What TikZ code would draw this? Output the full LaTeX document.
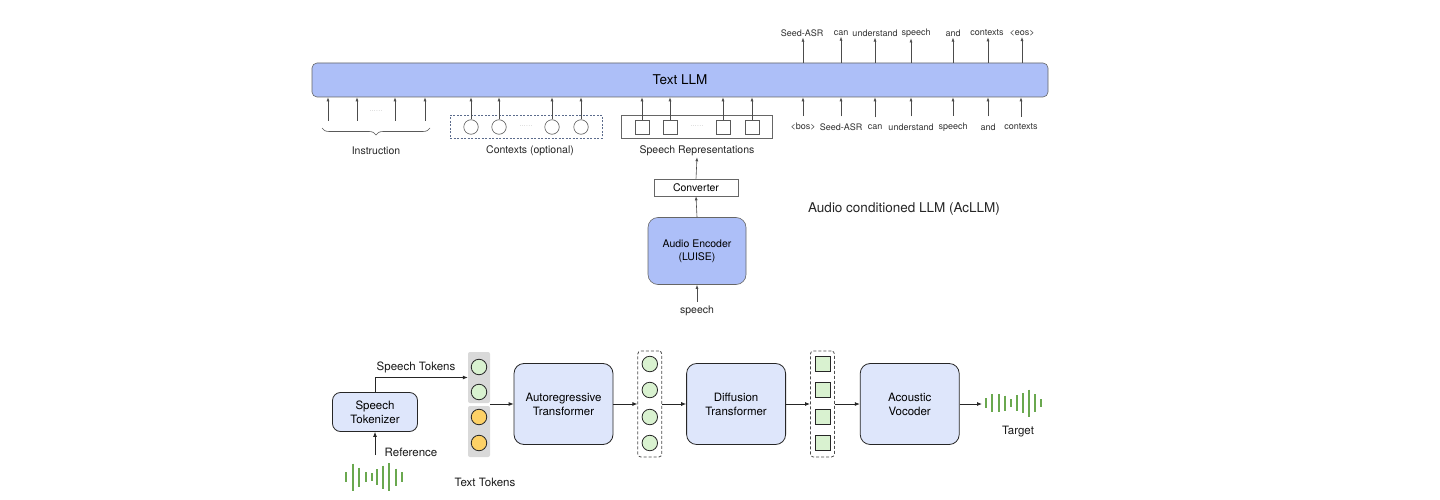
\documentclass[tikz,border=0pt]{standalone}
\usepackage{fontspec}
\setmainfont{TeX Gyre Heros}
\usetikzlibrary{arrows.meta,positioning,decorations.pathreplacing}
\definecolor{llmblue}{HTML}{ADBFF8}
\definecolor{lavbox}{HTML}{DEE6FB}
\definecolor{tokgreen}{HTML}{D9F2D0}
\definecolor{tokyellow}{HTML}{FDD166}
\definecolor{colgray}{HTML}{D9D9D9}
\definecolor{wavegreen}{HTML}{6AA84F}
\definecolor{ctxline}{HTML}{5B6B8C}

\begin{document}
\begin{tikzpicture}[x=1pt, y=-1pt,
    node distance=24pt,
    arr/.style={-{Latex[length=4pt,width=3pt]}, draw=black!70, line width=0.6pt},
    barr/.style={-{Latex[length=5pt,width=4pt]}, draw=black!85, line width=0.8pt},
    word/.style={inner sep=1pt, font=\fontsize{9}{10}\selectfont, text=black!80},
    lbl/.style={inner sep=1pt, font=\fontsize{10.5}{12}\selectfont, text=black!85},
    blbl/.style={inner sep=1pt, font=\fontsize{11.5}{13}\selectfont, text=black!90},
    dots/.style={inner sep=0pt, font=\fontsize{5}{5}\selectfont, text=black!45},
    llm/.style={draw=black!60, line width=0.6pt, fill=llmblue, rounded corners=5pt, font=\fontsize{13.5}{15}\selectfont},
    enc/.style={draw=black!60, line width=0.6pt, fill=llmblue, rounded corners=10pt, align=center, font=\fontsize{10.5}{13}\selectfont},
    conv/.style={draw=black!60, line width=0.6pt, fill=white, font=\fontsize{10.5}{12}\selectfont},
    ctxbox/.style={draw=ctxline, line width=0.6pt, dash pattern=on 2pt off 1.5pt},
    repbox/.style={draw=black!60, line width=0.6pt},
    ctok/.style={circle, draw=black!65, line width=0.6pt, fill=white, minimum size=14.5pt, inner sep=0pt},
    stok/.style={draw=black!65, line width=0.6pt, fill=white, minimum size=14pt, inner sep=0pt},
    blk/.style={draw=black!85, line width=0.8pt, fill=lavbox, rounded corners=10pt, align=center, minimum width=99pt, minimum height=81pt, font=\fontsize{11.5}{14}\selectfont},
    dcol/.style={draw=black!70, line width=0.8pt, dash pattern=on 3pt off 2pt, rounded corners=3pt, minimum width=24pt, minimum height=106pt, inner sep=0pt},
    gcol/.style={fill=colgray, rounded corners=2pt, minimum width=22pt, minimum height=51pt, inner sep=0pt},
    btok/.style={circle, draw=black!85, line width=0.8pt, minimum size=15.5pt, inner sep=0pt},
    bsq/.style={draw=black!85, line width=0.8pt, fill=tokgreen, minimum size=15pt, inner sep=0pt},
    wave/.style={draw=wavegreen, line width=1.6pt}
]
\useasboundingbox (0,0) rectangle (1440,500);
\fill[white] (0,0) rectangle (1440,500);

\node[llm, minimum width=736pt, minimum height=34pt] (llm) at (680,80) {Text LLM};

\foreach \x/\lx/\w [count=\i] in {803/802/Seed-ASR, 841/841/can, 875/875/understand, 911/916/speech, 953/953/and, 988/987/contexts, 1022/1022/<eos>} {
  \node[word] (out\i) at (\lx,33) {\w};
  \draw[arr] (llm.north -| \x,0) -- (out\i.south -| \x,0);
}
\foreach \x/\w [count=\i] in {803/<bos>, 841/Seed-ASR, 875/can, 911/understand, 953/speech, 988/and, 1021/contexts} {
  \node[word] (in\i) at (\x,127) {\w};
  \draw[arr, shorten <=6pt] (in\i.north) -- (in\i.north |- llm.south);
}

\foreach \x [count=\i] in {328,357,395,425} {
  \coordinate (ins\i) at (\x,121);
  \draw[arr] (ins\i) -- (ins\i |- llm.south);
}
\node[dots] (insdots) at (376,111) {.\,.\,.\,.\,.\,.};
\coordinate (brl) at (322,128);
\coordinate (brr) at (430,128);
\draw[black!65, line width=0.6pt, decorate, decoration={brace, mirror, amplitude=7pt}] (brl) -- (brr);
\node[lbl] (inslbl) at (376,151) {Instruction};

\node[ctxbox, minimum width=152pt, minimum height=23pt] (ctx) at (526,127) {};
\foreach \x [count=\i] in {471,499,552,581} {
  \node[ctok] (c\i) at (\x,127) {};
  \draw[arr] (c\i.north) -- (c\i.north |- llm.south);
}
\node[dots] (ctxdots) at (526,126) {.\,.\,.\,.\,.\,.};
\node[lbl] (ctxlbl) at (530,151) {Contexts (optional)};

\node[repbox, minimum width=151pt, minimum height=23pt] (rep) at (696.5,127) {};
\foreach \x [count=\i] in {642,670,723,752} {
  \node[stok] (s\i) at (\x,127) {};
  \draw[arr] (s\i.north) -- (s\i.north |- llm.south);
}
\node[dots] (repdots) at (697,126) {.\,.\,.\,.\,.\,.};
\node[lbl] (replbl) at (697,151) {Speech Representations};

\node[conv, minimum width=84pt, minimum height=17pt, inner sep=0pt] (conv) at (696,187.5) {Converter};
\node[enc, minimum width=98pt, minimum height=67pt] (enc) at (697,251) {Audio Encoder\\(LUISE)};
\node[lbl] (spin) at (697,311) {speech};
\draw[arr] (conv.north) -- (replbl.south);
\draw[arr] (enc.north) -- (conv.south);
\draw[arr, shorten <=3pt] (spin.north) -- (enc.south);
\node[inner sep=0pt, font=\fontsize{13.5}{15}\selectfont, text=black!85] (acllm) at (904,209) {Audio conditioned LLM (AcLLM)};

\node[blk, minimum width=85pt, minimum height=39pt, rounded corners=8pt] (tokz) at (375,412) {Speech\\Tokenizer};
\node[gcol] (sgrp) at (479,377.5) {};
\node[gcol] (tgrp) at (479,431.5) {};
\foreach \y [count=\i] in {367,392} \node[btok, fill=tokgreen] (sp\i) at (479,\y) {};
\foreach \y [count=\i] in {417,443} \node[btok, fill=tokyellow] (tx\i) at (479,\y) {};
\node[blbl] (sptlbl) at (416,367) {Speech Tokens};
\node[blbl] (txtlbl) at (485,482) {Text Tokens};
\draw[barr] (tokz.north) |- (sgrp.west);
\coordinate (refin) at (375,455);
\node[blbl] (reflbl) at (411,452) {Reference};
\draw[barr] (refin) -- (tokz.south);
\foreach \x/\h in {346/10, 353/27, 359/19, 366/10, 372/8, 377/16, 383/23, 389/28, 396/17, 402/10}
  \draw[wave] (\x,477-\h/2) -- (\x,477+\h/2);

\node[blk] (ar) at (563.5,404) {Autoregressive\\Transformer};
\node[dcol, right=24pt of ar] (col1) {};
\node[blk, right=24pt of col1] (dit) {Diffusion\\Transformer};
\node[dcol, right=24pt of dit] (col2) {};
\node[blk, right=25pt of col2] (voc) {Acoustic\\Vocoder};
\foreach \y [count=\i] in {364,390,417,443} {
  \node[btok, fill=tokgreen] (g\i) at (col1 |- 0,\y) {};
  \node[bsq] (q\i) at (col2 |- 0,\y) {};
}
\coordinate (tgt) at (982,404);
\draw[barr] (ar.west -| tgrp.east) -- (ar.west);
\draw[barr] (ar.east) -- (col1.west);
\draw[barr] (col1.east) -- (dit.west);
\draw[barr] (dit.east) -- (col2.west);
\draw[barr] (col2.east) -- (voc.west);
\draw[barr] (voc.east) -- (tgt);
\foreach \x/\h in {986/10, 992/18, 999/18, 1005/15, 1011/8, 1017/16, 1023/20, 1029/27, 1035/18, 1041/8}
  \draw[wave] (\x,403-\h/2) -- (\x,403+\h/2);
\node[blbl] (tgtlbl) at (1018,432) {Target};
\end{tikzpicture}
\end{document}
